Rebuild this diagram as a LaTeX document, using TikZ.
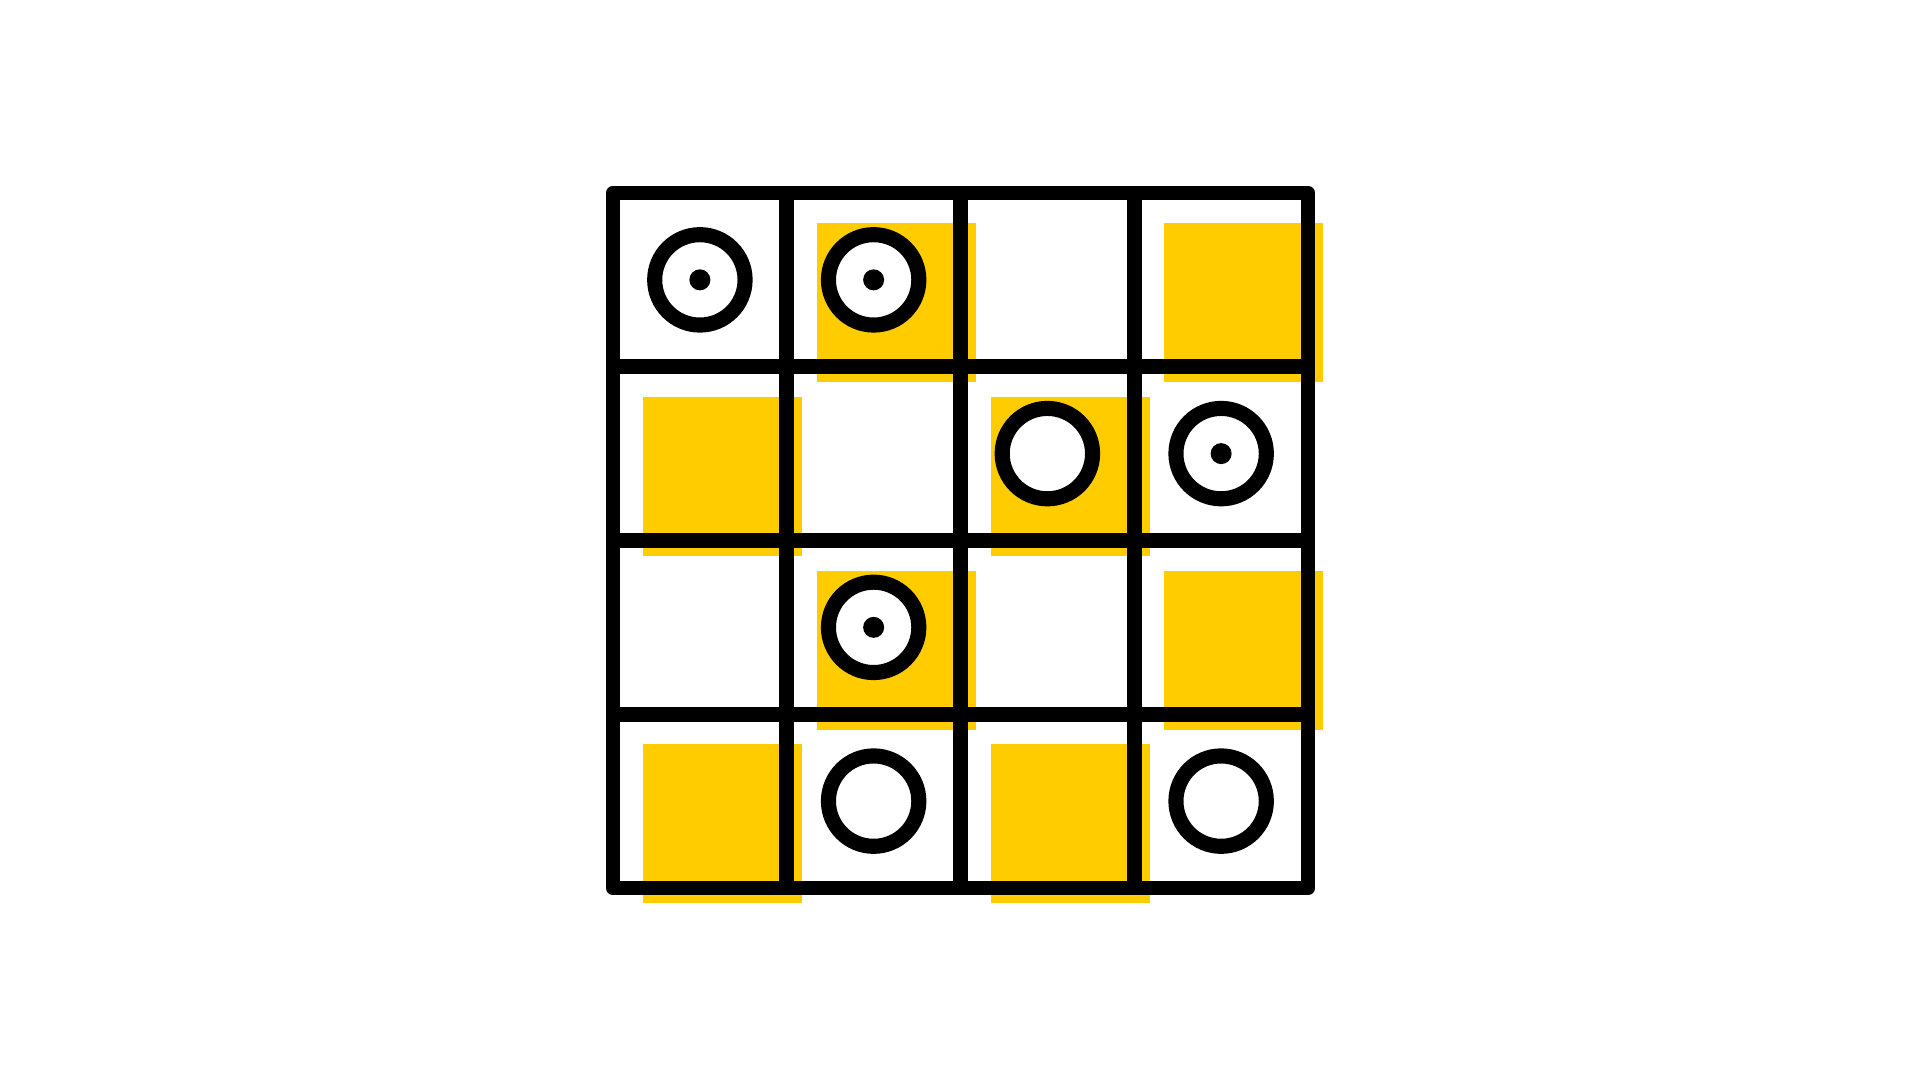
\documentclass[tikz,border=0pt]{standalone}
\usepackage{tikz}
\definecolor{tileyellow}{RGB}{255,204,0}
\tikzset{
    tile/.style={fill=tileyellow, draw=none},
    gridline/.style={draw=black, line width=4.2pt},
    frame/.style={draw=black, line width=4.2pt, line join=round},
    ring/.style={circle, draw=black, fill=white, line width=4.3pt, minimum size=0.904cm, inner sep=0pt},
    pip/.style={circle, fill=black, minimum size=0.21cm, inner sep=0pt},
}

\begin{document}
\begin{tikzpicture}
\useasboundingbox (0,0) rectangle (19.2,10.8);

\begin{scope}[shift={(6.13,1.92)}, x=1.7375cm, y=1.7375cm]

% Yellow tiles (offset checkerboard)
\foreach \col/\row in {1/0, 3/0, 0/1, 2/1, 1/2, 3/2, 0/3, 2/3}
    \fill[tile] (\col+0.173, 4-\row-0.173) rectangle (\col+1.088, 4-\row-1.088);

% Grid
\coordinate (nw) at (0,4);
\coordinate (se) at (4,0);
\foreach \i in {1,2,3} {
    \draw[gridline] (\i,0) -- (\i,4);
    \draw[gridline] (0,\i) -- (4,\i);
}
\draw[frame] (nw) rectangle (se);

% Rings
\node[ring] (r00) at (0.5,3.5) {};
\node[ring] (r10) at (1.5,3.5) {};
\node[ring] (r21) at (2.5,2.5) {};
\node[ring] (r31) at (3.5,2.5) {};
\node[ring] (r12) at (1.5,1.5) {};
\node[ring] (r13) at (1.5,0.5) {};
\node[ring] (r33) at (3.5,0.5) {};

% Centre dots
\node[pip] (p00) at (r00) {};
\node[pip] (p10) at (r10) {};
\node[pip] (p31) at (r31) {};
\node[pip] (p12) at (r12) {};

\end{scope}
\end{tikzpicture}
\end{document}
